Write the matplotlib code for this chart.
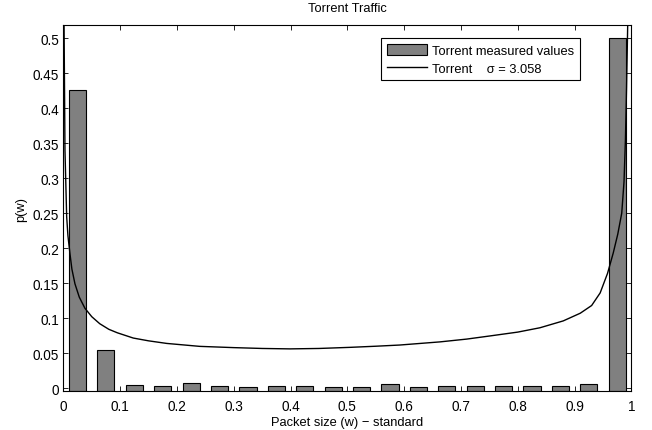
import numpy as np
import matplotlib
matplotlib.use("Agg")
import matplotlib.pyplot as plt
from matplotlib.ticker import FormatStrFormatter, MultipleLocator

plt.rcParams['font.family'] = ['Liberation Sans', 'DejaVu Sans']
plt.rcParams['font.size'] = 9.3

# histogram of measured packet sizes (20 bins over [0, 1])
bin_centers = np.arange(0.025, 1.0, 0.05)
measured = [0.426, 0.055, 0.0043, 0.0024, 0.0067, 0.0029, 0.0019, 0.0029,
            0.0024, 0.0019, 0.0019, 0.0053, 0.0015, 0.0024, 0.0029, 0.0024,
            0.0024, 0.0024, 0.0053, 0.5007]

# fitted model curve
fit_x = [0.0012, 0.0028, 0.0058, 0.008, 0.0116, 0.015, 0.0204, 0.028, 0.038,
         0.050, 0.064, 0.080, 0.095, 0.123, 0.150, 0.182, 0.240, 0.300,
         0.350, 0.399, 0.450, 0.505, 0.550, 0.592, 0.663, 0.710, 0.751,
         0.800, 0.839, 0.880, 0.910, 0.930, 0.945, 0.958, 0.968, 0.976,
         0.983, 0.987, 0.9895, 0.9915, 0.9935]
fit_y = [0.52, 0.340, 0.245, 0.218, 0.192, 0.170, 0.149, 0.130, 0.114,
         0.102, 0.092, 0.084, 0.079, 0.0715, 0.0675, 0.0638, 0.0596, 0.0578,
         0.0566, 0.0560, 0.0566, 0.0582, 0.0598, 0.0615, 0.0660, 0.0700,
         0.0745, 0.0800, 0.0862, 0.0960, 0.1070, 0.1180, 0.1360, 0.1640,
         0.1930, 0.2200, 0.2500, 0.2950, 0.3550, 0.4300, 0.52]

y_lo, y_hi = -0.0047, 0.5195

fig = plt.figure(figsize=(6.52, 4.31), dpi=100)
ax = fig.add_axes([0.0972, 0.0897, 0.8712, 0.8507])

bars = ax.bar(bin_centers, np.array(measured) - y_lo, bottom=y_lo, width=0.03,
              color='#808080', edgecolor='black', linewidth=0.8, zorder=2)
line, = ax.plot(fit_x, fit_y, color='black', linewidth=1.0, zorder=3)

ax.set_xlim(0, 1)
ax.set_ylim(y_lo, y_hi)
ax.xaxis.set_major_locator(MultipleLocator(0.1))
ax.yaxis.set_major_locator(MultipleLocator(0.05))
ax.xaxis.set_major_formatter(FormatStrFormatter('%g'))
ax.yaxis.set_major_formatter(FormatStrFormatter('%g'))
ax.tick_params(direction='in', top=True, right=True, length=3.6, width=0.6,
               labelsize=9.8)
ax.tick_params(axis='x', pad=5.5)
ax.tick_params(axis='y', pad=3)
for sp in ax.spines.values():
    sp.set_linewidth(0.8)

ax.set_title('Torrent Traffic', fontsize=9.3, pad=9.5)
ax.set_xlabel('Packet size (w) \u2212 standard', fontsize=9.3, labelpad=2.5)
ax.set_ylabel('p(w)', fontsize=9.3, labelpad=4)

leg = ax.legend([bars, line],
                ['Torrent measured values', 'Torrent    \u03c3 = 3.058'],
                loc='upper right', bbox_to_anchor=(0.9095, 0.963),
                borderaxespad=0, fancybox=False, framealpha=1,
                edgecolor='black', handlelength=3.1, handleheight=0.95,
                handletextpad=0.45, borderpad=0.42, labelspacing=0.4,
                fontsize=9.3)
leg.get_frame().set_linewidth(0.8)

fig.savefig('out.png', dpi=100)
